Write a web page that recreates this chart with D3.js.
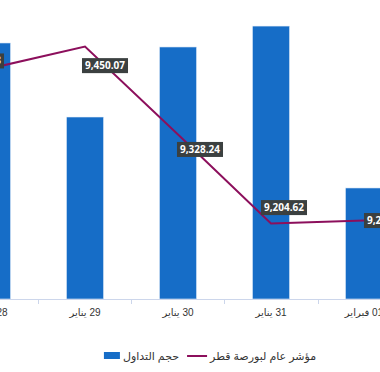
<!DOCTYPE html>
<html>
<head>
<meta charset="utf-8">
<script src="https://cdn.jsdelivr.net/npm/d3@7"></script>
<style>
  body { margin: 0; background: #fff; }
  svg { display: block; font-family: "Liberation Sans", "DejaVu Sans", sans-serif; }
</style>
</head>
<body>
<div id="chart"></div>
<script>
const days = ['28 يناير', '29 يناير', '30 يناير', '31 يناير', '01 فبراير'];
const volume = [275.3, 195.7, 271.0, 293.5, 119.4];   // حجم التداول
const index = [9420.48, 9450.07, 9328.24, 9204.62, 9208.85]; // مؤشر عام لبورصة قطر
const seriesNames = ['مؤشر عام لبورصة قطر', 'حجم التداول'];

// where each value label sits relative to its point
const labelShift = [[-11, -7], [20, 19], [22, 15], [13, -16], [23, 0]];

const W = 380, H = 372;
const barColor = '#166dc7';
const lineColor = '#8c0f5c';

const svg = d3.select('#chart').append('svg')
  .attr('width', W).attr('height', H);

const x = d3.scaleBand()
  .domain(days)
  .range([-54.5, 410.5])
  .paddingInner(0.6)
  .paddingOuter(0.3);

const yBar = d3.scaleLinear().domain([0, 300]).range([299, 20]);
const yLine = d3.scaleLinear().domain([9100, 9487]).range([299, 20]);

// bars
svg.selectAll('rect.bar')
  .data(volume)
  .enter().append('rect')
  .attr('class', 'bar')
  .attr('x', (d, i) => x(days[i]))
  .attr('width', x.bandwidth())
  .attr('y', d => yBar(d))
  .attr('height', d => yBar(0) - yBar(d))
  .attr('fill', barColor)
  .attr('stroke', '#e8f0fa')
  .attr('stroke-width', 0.6);

// x axis
const gap = (x.step() - x.bandwidth()) / 2;
const axis = svg.append('g');
axis.append('line')
  .attr('x1', 0).attr('x2', W)
  .attr('y1', 299.5).attr('y2', 299.5)
  .attr('stroke', '#ccd6eb');
axis.selectAll('line.tick')
  .data(days)
  .enter().append('line')
  .attr('class', 'tick')
  .attr('x1', d => Math.round(x(d) - gap) + 0.5)
  .attr('x2', d => Math.round(x(d) - gap) + 0.5)
  .attr('y1', 299).attr('y2', 304)
  .attr('stroke', '#ccd6eb');
axis.selectAll('text')
  .data(days)
  .enter().append('text')
  .attr('x', d => x(d) + x.bandwidth() / 2)
  .attr('y', 316)
  .attr('text-anchor', 'middle')
  .attr('direction', 'rtl')
  .attr('font-size', 10)
  .attr('fill', '#333')
  .text(d => d);

// line
const line = d3.line()
  .x((d, i) => x(days[i]) + x.bandwidth() / 2)
  .y(d => yLine(d));

svg.append('path')
  .datum(index)
  .attr('d', line)
  .attr('fill', 'none')
  .attr('stroke', lineColor)
  .attr('stroke-width', 2);

// value labels
const fmt = d3.format(',.2f');
const labels = svg.selectAll('g.lbl')
  .data(index)
  .enter().append('g')
  .attr('class', 'lbl')
  .attr('transform', (d, i) => {
    const cx = x(days[i]) + x.bandwidth() / 2 + labelShift[i][0];
    const cy = yLine(d) + labelShift[i][1];
    return `translate(${cx},${cy})`;
  });

labels.each(function(d) {
  const g = d3.select(this);
  const t = g.append('text')
    .attr('text-anchor', 'middle')
    .attr('dy', '0.35em')
    .attr('font-family', '"Open Sans", "DejaVu Sans", sans-serif')
    .attr('font-weight', 'bold')
    .attr('font-size', 10)
    .attr('fill', '#fff')
    .text(fmt(d));
  const w = t.node().getComputedTextLength() + 6;
  g.insert('rect', 'text')
    .attr('x', -w / 2).attr('y', -7.5)
    .attr('width', w).attr('height', 15)
    .attr('fill', '#3b4040');
});

// legend, laid out right to left: text, then its symbol on the left
const legend = svg.append('g').attr('transform', 'translate(0,356)');
const items = legend.selectAll('g.item')
  .data(seriesNames)
  .enter().append('g')
  .attr('class', 'item');

items.append('text')
  .attr('y', 4)
  .attr('text-anchor', 'end')
  .attr('font-size', 11)
  .attr('fill', '#333')
  .text(d => d);

let cursor = 0;
const symW = [20, 16];
items.each(function(d, i) {
  const g = d3.select(this);
  const tw = g.select('text').node().getComputedTextLength();
  g.select('text').attr('x', cursor);
  const sx = cursor - tw - 3 - symW[i];
  if (i === 0) {
    g.append('line')
      .attr('x1', sx).attr('x2', sx + symW[i])
      .attr('y1', 0).attr('y2', 0)
      .attr('stroke', lineColor).attr('stroke-width', 2);
  } else {
    g.append('rect')
      .attr('x', sx).attr('y', -4)
      .attr('width', symW[i]).attr('height', 7)
      .attr('fill', barColor);
  }
  cursor = sx - 8;
});
// centre the legend where the reference has it
const total = -(cursor + 8);
legend.attr('transform', `translate(${210 + total / 2},356)`);
</script>
</body>
</html>
